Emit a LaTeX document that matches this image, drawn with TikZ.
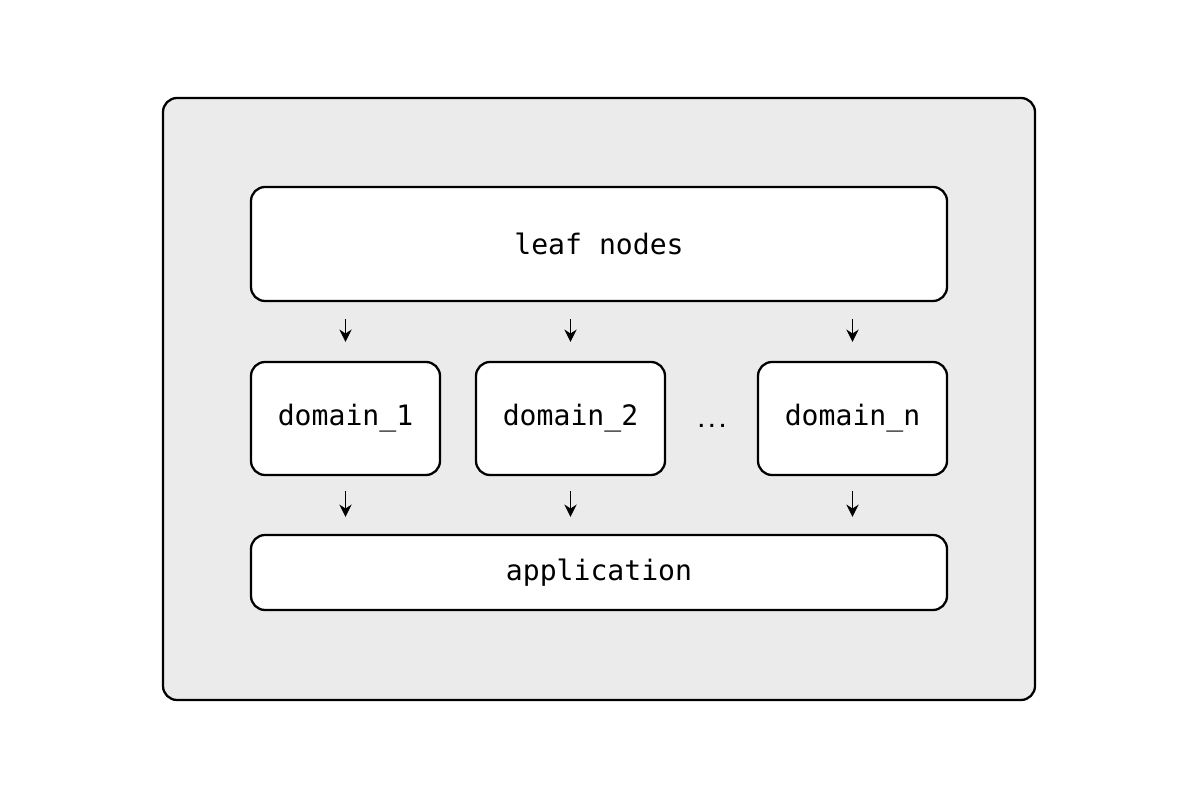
\documentclass[tikz,border=0pt]{standalone}
\usepackage{fontspec}
\setmonofont{DejaVu Sans Mono}
\usepackage{tikz}
\usetikzlibrary{positioning, calc, arrows.meta}
\definecolor{panel}{HTML}{EBEBEB}
\tikzstyle{Box} = [
draw=black, line width=1.3pt, fill=white,
rounded corners=8pt, inner sep=0pt,
font=\ttfamily\fontsize{16}{19}\selectfont]
\tikzstyle{Arrow} = [
line width=0.9pt,
-{Stealth[length=7pt, width=7pt]}]

\begin{document}
\begin{tikzpicture}
    \useasboundingbox (0,0) rectangle (24,16);
    \node [Box, fill=panel, minimum width=17.44cm, minimum height=12.04cm] (0) at (11.98,8.02) {};
    \node [Box, minimum width=13.92cm, minimum height=2.28cm] (1) at (11.98,11.12) {leaf nodes};
    \node [Box, minimum width=3.78cm, minimum height=2.26cm] (2) at (6.91,7.63) {domain\_1};
    \node [Box, minimum width=3.78cm, minimum height=2.26cm] (3) at (11.41,7.63) {domain\_2};
    \node [Box, minimum width=3.78cm, minimum height=2.26cm] (4) at (17.05,7.63) {domain\_n};
    \node [anchor=base, inner sep=0pt, font=\ttfamily\bfseries\fontsize{10}{12}\selectfont] (5) at (14.24,7.45) {...};
    \node [Box, minimum width=13.92cm, minimum height=1.5cm] (6) at (11.98,4.55) {application};
    \foreach \d in {2,3,4}{
        \draw[Arrow, shorten <=0.34cm, shorten >=0.38cm] (1.south -| \d.north) -- (\d.north);
        \draw[Arrow, shorten <=0.3cm, shorten >=0.34cm] (\d.south) -- (\d.south |- 6.north);
    }
\end{tikzpicture}
\end{document}
